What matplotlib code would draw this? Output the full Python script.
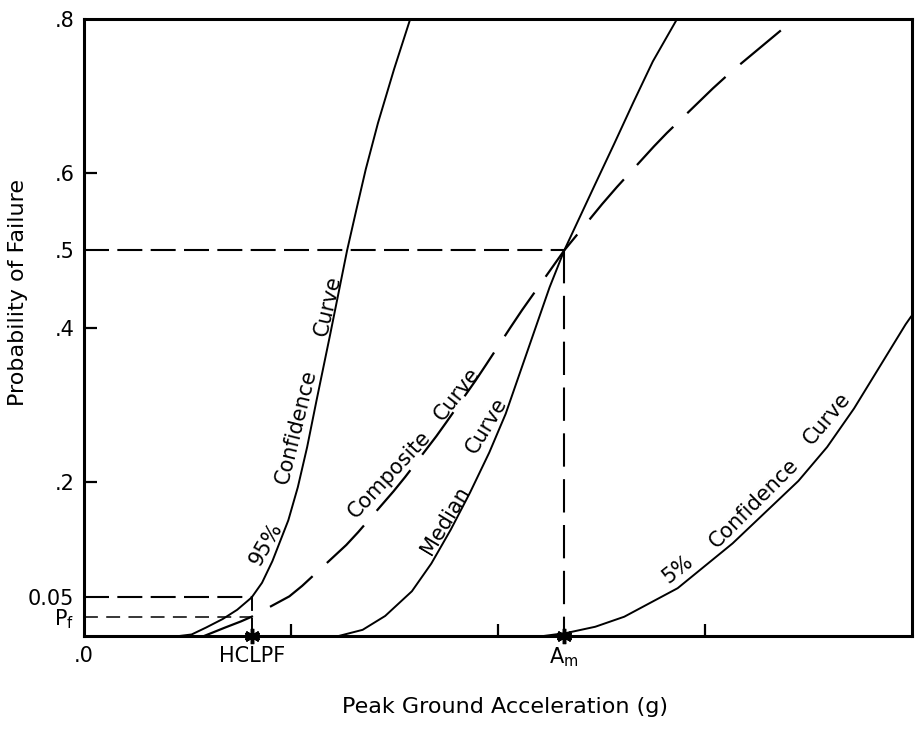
import matplotlib
matplotlib.use('Agg')
import matplotlib.pyplot as plt

plt.rcParams['font.family'] = ['DejaVu Sans']
plt.rcParams['lines.scale_dashes'] = False

# ---- reference levels ----
hclpf = 0.081
a_m = 0.232
p_f = 0.025
p_05 = 0.05
p_50 = 0.5

# ---- curves ----
x95 = [0.046, 0.052, 0.059, 0.067, 0.074, 0.081, 0.086, 0.091, 0.0987, 0.1033,
       0.1078, 0.1123, 0.119, 0.1226, 0.1271, 0.1316, 0.1361, 0.1420, 0.1498, 0.1576]
y95 = [0.0, 0.002, 0.011, 0.022, 0.034, 0.050, 0.069, 0.097, 0.150, 0.193,
       0.245, 0.305, 0.392, 0.440, 0.500, 0.553, 0.605, 0.665, 0.735, 0.800]

x_comp = [0.058, 0.0682, 0.0759, 0.081, 0.0992, 0.1054, 0.1267, 0.1324, 0.1495,
          0.1551, 0.1702, 0.1750, 0.1891, 0.1943, 0.2060, 0.2116, 0.232,
          0.2503, 0.2574, 0.2754, 0.2815, 0.3038, 0.3124, 0.3370, 0.3404]
y_comp = [0.0, 0.011, 0.019, 0.025, 0.0514, 0.065, 0.118, 0.1345, 0.1875,
          0.206, 0.259, 0.277, 0.331, 0.352, 0.400, 0.4225, 0.500,
          0.560, 0.582, 0.635, 0.652, 0.710, 0.731, 0.786, 0.7935]

x_med = [0.123, 0.1346, 0.1455, 0.1584, 0.1678, 0.1772, 0.1865, 0.1958, 0.2037,
         0.2143, 0.2249, 0.232, 0.2468, 0.2561, 0.2654, 0.2748, 0.2865]
y_med = [0.0, 0.008, 0.026, 0.058, 0.094, 0.138, 0.186, 0.238, 0.288,
         0.370, 0.452, 0.500, 0.585, 0.638, 0.692, 0.745, 0.800]

x5 = [0.222, 0.2332, 0.247, 0.261, 0.2868, 0.3133, 0.3451, 0.359, 0.372, 0.3969, 0.3995]
y5 = [0.0, 0.004, 0.012, 0.025, 0.062, 0.120, 0.201, 0.245, 0.295, 0.404, 0.414]

# ---- tick labels ----
xtick_vals = [0.0, hclpf, 0.1, 0.2, a_m, 0.3]
xtick_labels = ['.0', 'HCLPF', '', '', r'$\mathregular{A_m}$', '']
ytick_vals = [p_f, p_05, 0.2, 0.4, 0.5, 0.6, 0.8]
ytick_labels = [r'$\mathregular{P_f}$', '0.05', '.2', '.4', '.5', '.6', '.8']

fig = plt.figure(figsize=(9.21, 7.30), dpi=100)
ax = fig.add_axes([84 / 921, 94 / 730, 828 / 921, 617 / 730])
ax.set_xlim(0, 0.4)
ax.set_ylim(0, 0.8)

lw_curve = 1.4
ax.plot(x95, y95, color='black', lw=lw_curve, solid_joinstyle='round')
ax.plot(x_med, y_med, color='black', lw=lw_curve, solid_joinstyle='round')
ax.plot(x5, y5, color='black', lw=lw_curve, solid_joinstyle='round')
ax.plot(x_comp, y_comp, color='black', lw=1.6, dashes=(38, 14))

# reference dashed lines
ax.plot([0, a_m], [p_50, p_50], color='black', lw=1.5, dashes=(18, 6))
ax.plot([a_m, a_m], [p_50, 0], color='black', lw=1.5, dashes=(24, 9))
ax.plot([0, hclpf], [p_05, p_05], color='black', lw=1.5, dashes=(18, 6))
ax.plot([0, hclpf], [p_f, p_f], color='black', lw=1.1, dashes=(10, 6))
ax.plot([hclpf, hclpf], [p_05, 0], color='black', lw=1.4, dashes=(10, 5))

# markers on the axis
ax.plot([hclpf, a_m], [0, 0], linestyle='none', marker=(6, 2, 0), ms=11,
        mew=2.5, color='black', clip_on=False, zorder=5)

# curve labels
fs = 15
lab = dict(fontsize=fs, ha='center', va='center', rotation_mode='anchor')
ax.text(0.0878, 0.120, '95%', rotation=60, **lab)
ax.text(0.1025, 0.272, 'Confidence', rotation=76, **lab)
ax.text(0.1180, 0.428, 'Curve', rotation=77, **lab)
ax.text(0.1474, 0.209, 'Composite', rotation=47, **lab)
ax.text(0.1800, 0.314, 'Curve', rotation=52, **lab)
ax.text(0.1745, 0.1495, 'Median', rotation=59, **lab)
ax.text(0.1945, 0.273, 'Curve', rotation=59, **lab)
ax.text(0.2866, 0.0867, '5%', rotation=38, **lab)
ax.text(0.3236, 0.1724, 'Confidence', rotation=45, **lab)
ax.text(0.3591, 0.2825, 'Curve', rotation=50, **lab)

# axes styling
for sp in ax.spines.values():
    sp.set_linewidth(2.2)
ax.set_xticks(xtick_vals)
ax.set_xticklabels(xtick_labels, fontsize=fs)
ax.set_yticks(ytick_vals)
ax.set_yticklabels(ytick_labels, fontsize=fs)
ax.tick_params(direction='in', length=9, width=1.6, pad=7)
for val, t in zip(xtick_vals, ax.xaxis.get_major_ticks()):
    if val in (0.0, hclpf, a_m):
        t.tick1line.set_visible(False)
for val, t in zip(ytick_vals, ax.yaxis.get_major_ticks()):
    if val in (p_f, p_05, 0.5, 0.8):
        t.tick1line.set_visible(False)

ax.set_xlabel('Peak Ground Acceleration (g)', fontsize=16)
ax.xaxis.set_label_coords(0.508, -0.099)
ax.set_ylabel('Probability of Failure', fontsize=16)
ax.yaxis.set_label_coords(-0.068, 0.557)

fig.savefig('out.png', dpi=100)
